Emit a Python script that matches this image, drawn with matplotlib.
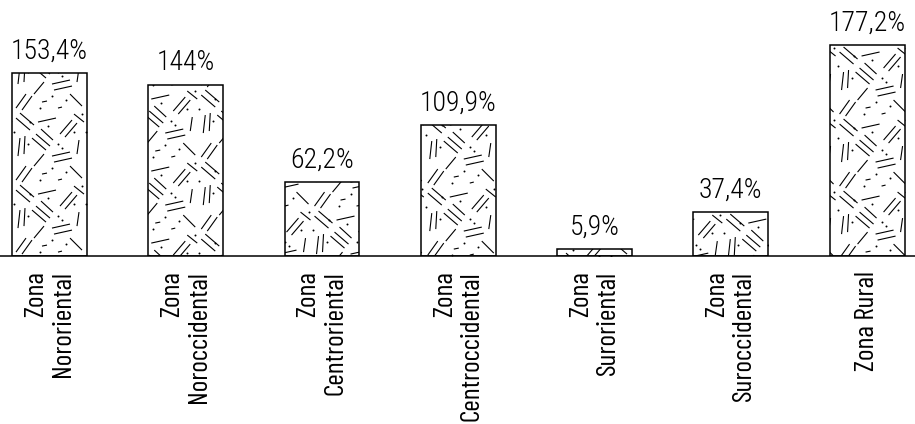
import numpy as np
import matplotlib.pyplot as plt
from matplotlib.collections import LineCollection

plt.rcParams['font.family'] = ['Roboto Condensed', 'DejaVu Sans']
tick_font = ['Barlow Condensed', 'Roboto Condensed', 'DejaVu Sans']

categories = ["Zona\nNororiental", "Zona\nNoroccidental", "Zona\nCentroriental",
              "Zona\nCentroccidental", "Zona\nSuroriental", "Zona\nSuroccidental",
              "Zona Rural"]
values = [153.4, 144, 62.2, 109.9, 5.9, 37.4, 177.2]
value_labels = [f"{v:g}".replace('.', ',') + '%' for v in values]

# hand drawn "concrete" texture tile, in pixels (72 x 72 tile, y up)
TILE = 72
tile_segs = [
    ((4, 66), (18, 54)), ((8, 71), (22, 59)),
    ((26, 62), (44, 66)),
    ((48, 50), (60, 64)), ((53, 47), (65, 61)),
    ((6, 28), (8, 46)), ((12, 30), (13, 48)),
    ((20, 46), (34, 34)), ((24, 50), (38, 38)), ((29, 55), (41, 44)),
    ((40, 28), (58, 32)), ((42, 22), (60, 26)),
    ((4, 4), (14, 18)), ((10, 2), (20, 16)),
    ((58, 18), (70, 6)),
    ((65, 30), (67, 44)),
    ((30, 10), (35, 11)), ((46, 4), (50, 5)),
    ((22, 18), (32, 30)),
    ((62, 70), (72, 62)),
]
tile_dots = [(16, 40), (36, 58), (46, 40), (70, 70), (2, 52), (54, 12),
             (28, 4), (62, 52), (40, 16), (18, 62), (50, 36)]

fig = plt.figure(figsize=(9.15, 4.24), dpi=100)
ax = fig.add_axes([0, 0.396, 1, 0.604])

x = np.arange(len(categories))
bars = ax.bar(x, values, width=0.55, color='white', edgecolor='black', linewidth=1.1, zorder=2)

ax.set_xlim(-0.363, 6.352)
ax.set_ylim(0, 215)

# pixels -> data units
px_x = 1 / 136.25
px_y = 215 / 256.0

for k, b in enumerate(bars):
    x0, y0 = b.get_x(), b.get_y()
    w, h = b.get_width(), b.get_height()
    shift = (k * 23) % TILE  # vary the tile start from bar to bar
    segs, dots = [], []
    nx = int(w / (TILE * px_x)) + 2
    ny = int(h / (TILE * px_y)) + 2
    for i in range(-1, nx):
        for j in range(-1, ny):
            ox = x0 + (i * TILE - shift) * px_x
            oy = y0 + (j * TILE + shift) * px_y
            for (a, c) in tile_segs:
                segs.append([(ox + a[0] * px_x, oy + a[1] * px_y),
                             (ox + c[0] * px_x, oy + c[1] * px_y)])
            for d in tile_dots:
                dots.append((ox + d[0] * px_x, oy + d[1] * px_y))
    lc = LineCollection(segs, colors='black', linewidths=0.8, zorder=3)
    ax.add_collection(lc)
    lc.set_clip_path(b)
    dots = np.array(dots)
    sc = ax.scatter(dots[:, 0], dots[:, 1], s=2, color='black', zorder=3, linewidths=0)
    sc.set_clip_path(b)

ax.bar_label(bars, labels=value_labels, padding=6, fontsize=20, fontweight='light')

ax.set_xticks(x)
ax.set_xticklabels(categories, rotation=90, ha='center', va='top',
                   multialignment='right', fontsize=20, fontweight='normal',
                   family=tick_font, linespacing=1.15)
ax.tick_params(axis='x', length=0, pad=11)
ax.set_yticks([])
for s in ['left', 'top', 'right']:
    ax.spines[s].set_visible(False)
ax.spines['bottom'].set_linewidth(1.1)
ax.spines['bottom'].set_zorder(4)

fig.savefig('out.png', dpi=100)
